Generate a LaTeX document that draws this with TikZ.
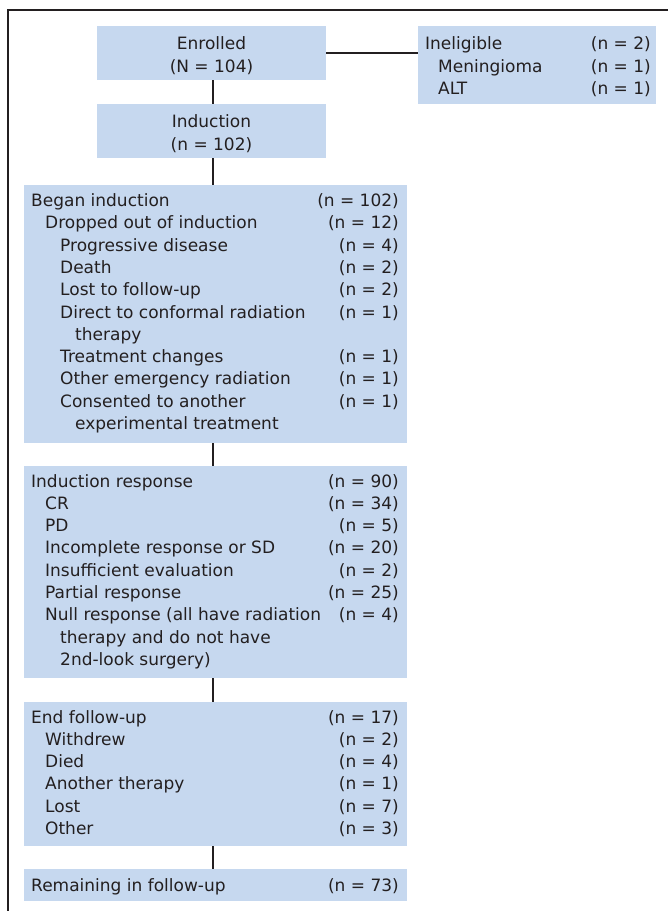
\documentclass[tikz,border=0pt]{standalone}
\usepackage{fontspec}
\setmainfont{DejaVu Sans}
\definecolor{boxblue}{HTML}{C6D8EF}
\definecolor{ink}{HTML}{231F20}
\begin{document}
\begin{tikzpicture}[x=1pt,y=-1pt,
  box/.style={fill=boxblue,draw=none,rectangle,inner sep=0pt,anchor=north west},
  lbl/.style={anchor=base west,inner sep=0pt,text=ink,font=\fontsize{17}{20}\selectfont},
  num/.style={anchor=base east,inner sep=0pt,text=ink,font=\fontsize{17}{20}\selectfont},
  ctr/.style={anchor=base,inner sep=0pt,text=ink,font=\fontsize{17}{20}\selectfont},
  conn/.style={draw=ink,line width=2.3pt}]
\useasboundingbox (0,0) rectangle (668,911);
% frame
\draw[draw=ink,line width=1.6pt] (8,911) -- (8,10) -- (668,10);
% boxes
\node[box,minimum width=229pt,minimum height=54pt] (enr) at (97,26) {};
\node[box,minimum width=229pt,minimum height=54pt] (ind) at (97,104) {};
\node[box,minimum width=238pt,minimum height=78pt] (inel) at (418,26) {};
\node[box,minimum width=383pt,minimum height=258pt] (began) at (24,185) {};
\node[box,minimum width=383pt,minimum height=212pt] (resp) at (24,466) {};
\node[box,minimum width=383pt,minimum height=144pt] (endf) at (24,702) {};
\node[box,minimum width=383pt,minimum height=32pt] (rem) at (24,869) {};
% connectors
\coordinate (x0) at (213,0);
\draw[conn] (enr.east |- 0,53) coordinate (h1) -- (inel.west |- h1);
\draw[conn] (enr.south -| x0) -- (ind.north -| x0);
\draw[conn] (ind.south -| x0) -- (began.north -| x0);
\draw[conn] (began.south -| x0) -- (resp.north -| x0);
\draw[conn] (resp.south -| x0) -- (endf.north -| x0);
\draw[conn] (endf.south -| x0) -- (rem.north -| x0);
% top texts
\node[ctr] (e1) at (211.5,49) {Enrolled};
\node[ctr] (e2) at (211.5,72) {(N = 104)};
\node[ctr] (i1) at (211.5,127) {Induction};
\node[ctr] (i2) at (211.5,150) {(n = 102)};
\node[lbl] (n1) at (425,49) {Ineligible};
\node[num] (n1n) at (651,49) {(n = 2)};
\node[lbl] (n2) at (438,72) {Meningioma};
\node[num] (n2n) at (651,72) {(n = 1)};
\node[lbl] (n3) at (438,94) {ALT};
\node[num] (n3n) at (651,94) {(n = 1)};
% began induction
\foreach \x/\t/\n [count=\i] in {
  31/Began induction/(n = 102),
  45/Dropped out of induction/(n = 12),
  60/Progressive disease/(n = 4),
  60/Death/(n = 2),
  60/Lost to follow-up/(n = 2),
  60/Direct to conformal radiation/(n = 1),
  75/therapy/{},
  60/Treatment changes/(n = 1),
  60/Other emergency radiation/(n = 1),
  60/Consented to another/(n = 1),
  75/experimental treatment/{}}{
  \node[lbl] (b\i) at (\x,{206.5+22.3*(\i-1)}) {\t};
  \node[num] (bn\i) at (399,{206.5+22.3*(\i-1)}) {\n};
}
% induction response
\foreach \x/\t/\n [count=\i] in {
  31/Induction response/(n = 90),
  45/CR/(n = 34),
  45/PD/(n = 5),
  45/Incomplete response or SD/(n = 20),
  45/Insufficient evaluation/(n = 2),
  45/Partial response/(n = 25),
  45/Null response (all have radiation/(n = 4),
  60/therapy and do not have/{},
  60/2nd-look surgery)/{}}{
  \node[lbl] (r\i) at (\x,{487+22.3*(\i-1)}) {\t};
  \node[num] (rn\i) at (399,{487+22.3*(\i-1)}) {\n};
}
% end follow-up
\foreach \x/\t/\n [count=\i] in {
  31/End follow-up/(n = 17),
  45/Withdrew/(n = 2),
  45/Died/(n = 4),
  45/Another therapy/(n = 1),
  45/Lost/(n = 7),
  45/Other/(n = 3)}{
  \node[lbl] (f\i) at (\x,{723+22.3*(\i-1)}) {\t};
  \node[num] (fn\i) at (399,{723+22.3*(\i-1)}) {\n};
}
\node[lbl] (m1) at (31,891) {Remaining in follow-up};
\node[num] (m1n) at (399,891) {(n = 73)};
\end{tikzpicture}
\end{document}
